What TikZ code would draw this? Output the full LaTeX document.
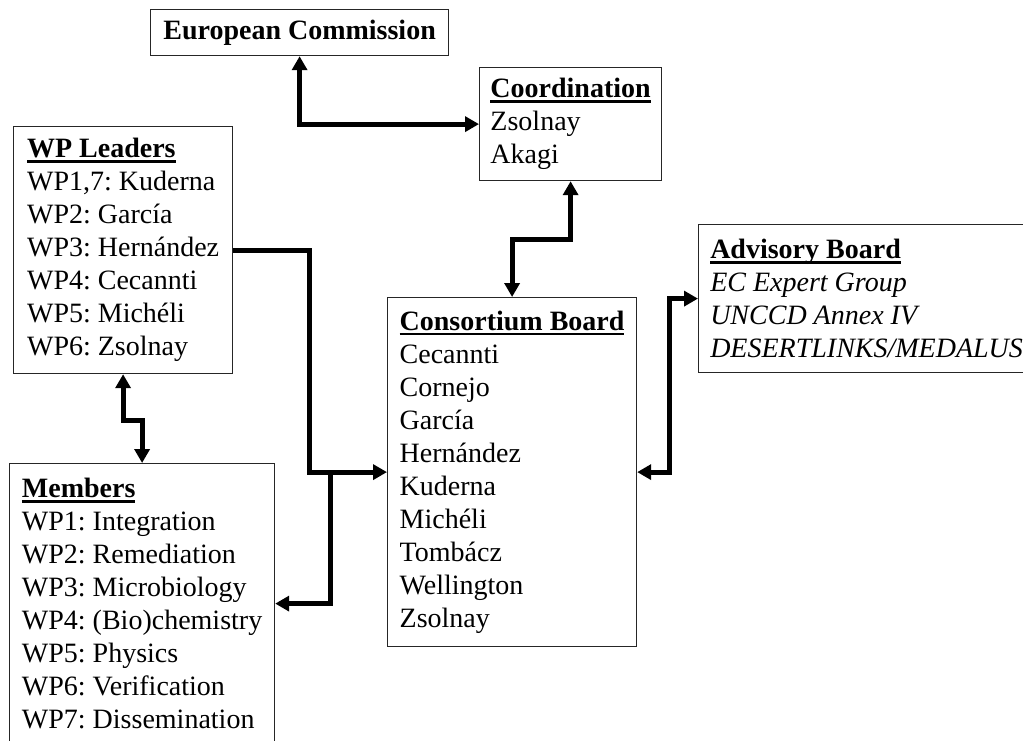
\documentclass[tikz,border=0pt]{standalone}
\usepackage{fontspec}
\setmainfont{Liberation Serif}
\usepackage{tikz}
\usetikzlibrary{arrows.meta,positioning,calc}
\frenchspacing

\newcommand{\boxhead}[1]{\setbox0\hbox{\textbf{#1}}\leavevmode\rlap{\rule[-5pt]{\wd0}{2.8pt}}\box0}

\begin{document}
\begin{tikzpicture}[
    x=1pt, y=-1pt,
    >={Triangle[length=14pt,width=15pt]},
    box/.style={draw=black!85, line width=1.2pt, anchor=north west, align=left,
        inner sep=0pt, font=\fontsize{28}{33}\selectfont},
    link/.style={line width=5pt},
]
  \useasboundingbox (0,0) rectangle (1023,740);
  \clip (0,0) rectangle (1023,740);

  % boxes
  \node[box, align=center, minimum width=298pt, minimum height=46pt] (ec) at (150,9)
    {\textbf{European Commission}};
  \node[box, minimum width=182pt, minimum height=113pt] (coord) at (479,67)
    {\boxhead{Coordination}\\Zsolnay\\Akagi};
  \node[box, minimum width=219pt, minimum height=247pt] (wpl) at (13,126)
    {\boxhead{WP Leaders}\\WP1,7: Kuderna\\WP2: García\\WP3: Hernández\\WP4: Cecannti\\WP5: Michéli\\WP6: Zsolnay};
  \node[box, minimum width=249pt, minimum height=349pt] (cons) at (387,297)
    {\boxhead{Consortium Board}\\Cecannti\\Cornejo\\García\\Hernández\\Kuderna\\Michéli\\Tombácz\\Wellington\\Zsolnay};
  \node[box, minimum width=336pt, minimum height=148pt] (adv) at (698,224)
    {\boxhead{Advisory Board}\\\textit{EC Expert Group}\\\textit{UNCCD Annex IV}\\\textit{DESERTLINKS/MEDALUS}};
  \node[box, minimum width=265pt, minimum height=280pt] (mem) at (9,463)
    {\boxhead{Members}\\WP1: Integration\\WP2: Remediation\\WP3: Microbiology\\WP4: (Bio)chemistry\\WP5: Physics\\WP6: Verification\\WP7: Dissemination};

  % links
  \draw[link, <->] (ec.south) |- (coord.west);
  \draw[link, <->] (coord.south) -- ++(0,58) -| (cons.north);
  \draw[link, ->] (wpl.east) -- ++(76,0) |- (cons.west);
  \coordinate (jn) at ($(cons.west)+(-57,0)$);
  \draw[link, ->] (jn) |- (mem.east);
  \draw[link, <->] (wpl.south) -- ++(0,46) -| (mem.north);
  \draw[link, <->] (cons.east) -- ++(32,0) |- (adv.west);
\end{tikzpicture}
\end{document}
